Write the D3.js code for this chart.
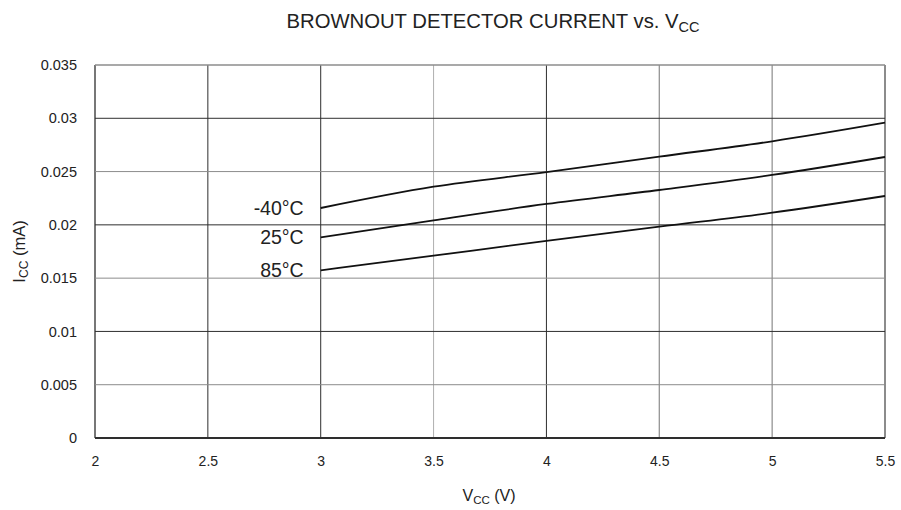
<!DOCTYPE html>
<html>
<head>
<meta charset="utf-8">
<script src="https://cdn.jsdelivr.net/npm/d3@7"></script>
<style>
  html, body { margin: 0; padding: 0; background: #fff; }
  svg { display: block; font-family: "Liberation Sans", Arial, Helvetica, sans-serif; }
</style>
</head>
<body>
<svg id="chart" width="901" height="510"></svg>
<script>
// Supply voltage samples (V)
const vcc = [3.0, 3.5, 4.0, 4.5, 5.0, 5.5];
// Brownout detector current (mA) per temperature
const iccMinus40 = [0.02158, 0.02358, 0.02495, 0.02640, 0.02784, 0.02959];
const icc25      = [0.01883, 0.02043, 0.02196, 0.02327, 0.02468, 0.02637];
const icc85      = [0.01573, 0.01711, 0.01849, 0.01983, 0.02114, 0.02271];
const seriesNames = ["-40°C", "25°C", "85°C"];

const xTicks = [2, 2.5, 3, 3.5, 4, 4.5, 5, 5.5];
const xTickLabels = ["2", "2.5", "3", "3.5", "4", "4.5", "5", "5.5"];
const yTicks = [0, 0.005, 0.01, 0.015, 0.02, 0.025, 0.03, 0.035];
const yTickLabels = ["0", "0.005", "0.01", "0.015", "0.02", "0.025", "0.03", "0.035"];

const svg = d3.select("#chart");
const margin = { left: 95, right: 16, top: 65, bottom: 72 };
const W = 901, H = 510;

const x = d3.scaleLinear().domain([2, 5.5]).range([margin.left, W - margin.right]);
const y = d3.scaleLinear().domain([0, 0.035]).range([H - margin.bottom, margin.top]);

const dark = "#2e2e2e", gray = "#8c8c8c";

// vertical grid lines
const vColor = [dark, dark, dark, "#9a9a9a", dark, gray, gray, gray];
const vWidth = [1.3, 1, 1, 0.8, 1, 1.2, 1.2, 2];
svg.append("g").selectAll("line").data(xTicks).join("line")
  .attr("x1", d => x(d)).attr("x2", d => x(d))
  .attr("y1", y(0)).attr("y2", y(0.035))
  .attr("stroke", (d, i) => vColor[i])
  .attr("stroke-width", (d, i) => vWidth[i]);

// horizontal grid lines
const hColor = [dark, gray, dark, gray, dark, gray, dark, gray];
const hWidth = [2, 1, 1, 1, 1, 1, 1, 1.3];
svg.append("g").selectAll("line").data(yTicks).join("line")
  .attr("x1", x(2)).attr("x2", x(5.5))
  .attr("y1", d => y(d)).attr("y2", d => y(d))
  .attr("stroke", (d, i) => hColor[i])
  .attr("stroke-width", (d, i) => hWidth[i]);

// axes (labels only; grid draws the frame)
const xAxis = d3.axisBottom(x).tickValues(xTicks)
  .tickFormat((d, i) => xTickLabels[i]).tickSize(0).tickPadding(18);
const gx = svg.append("g").attr("transform", `translate(0,${y(0)})`).call(xAxis);
gx.select(".domain").remove();
gx.selectAll("text").attr("font-size", 14).attr("fill", "#222")
  .attr("font-family", "Liberation Sans, Arial, sans-serif");

const yAxis = d3.axisLeft(y).tickValues(yTicks)
  .tickFormat((d, i) => yTickLabels[i]).tickSize(0).tickPadding(18);
const gy = svg.append("g").attr("transform", `translate(${x(2)},0)`).call(yAxis);
gy.select(".domain").remove();
gy.selectAll("text").attr("font-size", 14.5).attr("fill", "#222")
  .attr("font-family", "Liberation Sans, Arial, sans-serif");

// data lines
const allSeries = [iccMinus40, icc25, icc85];
const line = d3.line().x((d, i) => x(vcc[i])).y(d => y(d)).curve(d3.curveMonotoneX);
svg.append("g").selectAll("path").data(allSeries).join("path")
  .attr("d", d => line(d))
  .attr("fill", "none")
  .attr("stroke", "#111")
  .attr("stroke-width", 1.8);

// temperature labels next to the start of each curve
svg.append("g").selectAll("text").data(allSeries).join("text")
  .attr("x", x(vcc[0]) - 17)
  .attr("y", d => y(d[0]) + 7)
  .attr("text-anchor", "end")
  .attr("font-size", 19.5)
  .attr("fill", "#222")
  .text((d, i) => seriesNames[i]);

// title
const title = svg.append("text")
  .attr("x", 493).attr("y", 28)
  .attr("text-anchor", "middle")
  .attr("font-size", 20.3)
  .attr("fill", "#222");
title.append("tspan").text("BROWNOUT DETECTOR CURRENT vs. V");
title.append("tspan").attr("font-size", 14.5).attr("dy", 4).text("CC");

// x axis title
const xt = svg.append("text")
  .attr("x", 489).attr("y", 501)
  .attr("text-anchor", "middle")
  .attr("font-size", 16).attr("fill", "#222");
xt.append("tspan").text("V");
xt.append("tspan").attr("font-size", 11.5).attr("dy", 3).text("CC");
xt.append("tspan").attr("dy", -3).text(" (V)");

// y axis title
const yt = svg.append("text")
  .attr("transform", `translate(25,${(y(0) + y(0.035)) / 2}) rotate(-90)`)
  .attr("text-anchor", "middle")
  .attr("font-size", 16.5).attr("fill", "#222");
yt.append("tspan").text("I");
yt.append("tspan").attr("font-size", 12).attr("dy", 3).text("CC");
yt.append("tspan").attr("dy", -3).text(" (mA)");
</script>
</body>
</html>
